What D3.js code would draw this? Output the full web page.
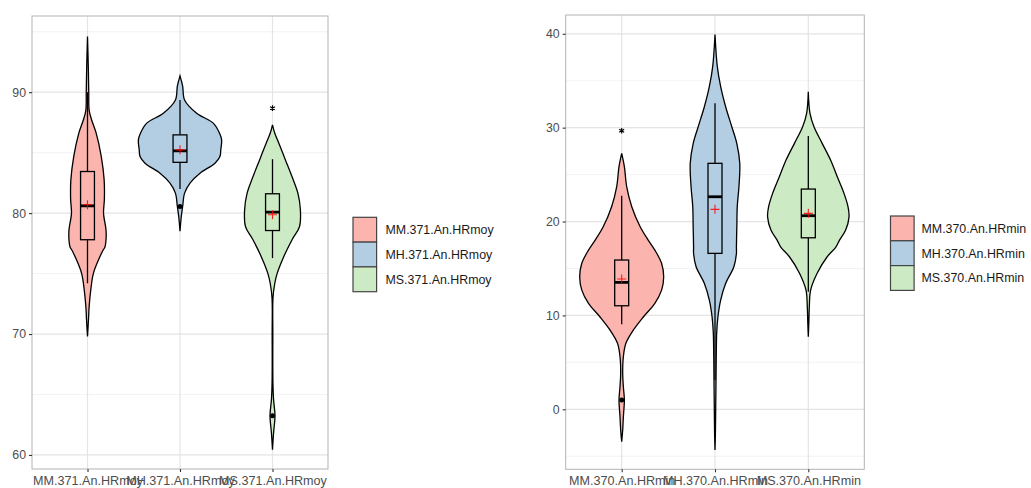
<!DOCTYPE html>
<html><head><meta charset="utf-8">
<script src="https://cdn.jsdelivr.net/npm/d3@7"></script>
<style>
body{margin:0;background:#fff}
svg{display:block}
text{font-family:"Liberation Sans",Arial,Helvetica,sans-serif}
</style>
</head><body>
<svg id="chart" width="1031" height="488"></svg>
<script>
// ---------- DATA ----------
const moyCategories = ["MM.371.An.HRmoy", "MH.371.An.HRmoy", "MS.371.An.HRmoy"];
const minCategories = ["MM.370.An.HRmin", "MH.370.An.HRmin", "MS.370.An.HRmin"];
const fillColors = ["#FBB4AE", "#B3CDE3", "#CCEBC5"];

const moyTicks = [60, 70, 80, 90];
const moyMinorTicks = [65, 75, 85, 95];
const minTicks = [0, 10, 20, 30, 40];
const minMinorTicks = [-5, 5, 15, 25, 35];

// violin outlines: [value, relative density]
const moyViolinMM = [[94.6,0],[92,0.02],[90,0.03],[88.5,0.04],[87.7,0.1],[86.6,0.21],[84.7,0.33],[82.75,0.4],[81.1,0.405],[80,0.385],[78.6,0.445],[77.8,0.445],[77.2,0.42],[76.97,0.38],[76.1,0.26],[75.0,0.14],[73.7,0.08],[72.3,0.04],[71.2,0.024],[69.8,0]];
const moyViolinMH = [[91.35,0],[90.5,0.064],[89.36,0.11],[88.26,0.4],[87.44,0.8],[86.6,0.95],[86.06,1.0],[85.23,0.98],[84.68,0.96],[84.13,0.84],[83.3,0.48],[82.5,0.245],[81.65,0.11],[80.55,0.064],[79.7,0.03],[78.5,0]];
const moyViolinMS = [[87.3,0],[86.6,0.055],[85.8,0.15],[84.4,0.31],[83.0,0.47],[81.65,0.61],[80.27,0.67],[78.9,0.65],[77.8,0.47],[76.4,0.27],[75.0,0.11],[74.2,0.055],[73,0.012],[70,0.008],[66,0.01],[64.6,0.025],[63.25,0.06],[61.8,0.025],[60.44,0]];

const minViolinMM = [[27.26,0],[25.84,0.064],[23.7,0.12],[21.58,0.24],[19.45,0.44],[18.0,0.635],[16.96,0.79],[15.55,0.95],[14.1,1.0],[12.7,0.95],[11.29,0.79],[9.86,0.52],[8.45,0.28],[7.03,0.1],[5.6,0.04],[3.83,0.024],[2.4,0.04],[1.0,0.064],[-0.8,0.04],[-2.2,0.024],[-3.45,0]];
const minViolinMH = [[39.93,0],[36.5,0.055],[34.36,0.135],[32.2,0.255],[30.1,0.4],[28.3,0.52],[26.2,0.59],[23.7,0.57],[21.6,0.53],[19.45,0.52],[17.3,0.51],[16.6,0.51],[15.19,0.45],[13.42,0.255],[11.64,0.135],[9.86,0.07],[8.1,0.04],[5.6,0.03],[3.1,0.024],[0.28,0.017],[-2.56,0.01],[-4.33,0]];
const minViolinMS = [[33.82,0],[31.52,0.04],[30.1,0.135],[28.33,0.33],[26.55,0.53],[24.77,0.69],[23.0,0.85],[21.58,0.945],[20.5,0.97],[19.1,0.89],[18.0,0.74],[17.3,0.66],[16.25,0.45],[14.5,0.21],[12.7,0.055],[10.93,0.024],[9.16,0.012],[7.73,0]];

// box statistics
const moyWhiskerLow  = [74.2, 82.0, 76.28];
const moyQ1          = [77.8, 84.2, 78.56];
const moyMedian      = [80.6, 85.15, 80.08];
const moyQ3          = [83.44, 86.47, 81.6];
const moyWhiskerHigh = [90.0, 89.36, 84.46];
const moyMean        = [80.7, 85.23, 79.86];

const minWhiskerLow  = [9.05, 3.1, 12.52];
const minQ1          = [11.03, 16.61, 18.27];
const minMedian      = [13.52, 22.64, 20.62];
const minQ3          = [15.9, 26.2, 23.46];
const minWhiskerHigh = [22.75, 32.59, 29.1];
const minMean        = [13.88, 21.3, 20.87];

// outliers
const moyOutlierDots  = [{cat: "MH.371.An.HRmoy", v: 80.55}, {cat: "MS.371.An.HRmoy", v: 63.25}];
const moyOutlierStars = [{cat: "MS.371.An.HRmoy", v: 88.68}];
const minOutlierDots  = [{cat: "MM.370.An.HRmin", v: 0.99}];
const minOutlierStars = [{cat: "MM.370.An.HRmin", v: 29.67}];

// ---------- DRAW ----------
const svg = d3.select("#chart");
const LW = 1.3;

function panel(cfg) {
  const {left, right, top, bottom, domain, cats, ticks, minor, violins,
         wLow, q1, med, q3, wHigh, mean, dots, stars, legendX, legendY, legendTextX} = cfg;
  const g = svg.append("g");
  const y = d3.scaleLinear().domain(domain).range([bottom, top]);
  const x = d3.scalePoint().domain(cats).range([left, right]).padding(0.6);
  const step = x.step();
  const wScale = d3.scaleLinear().domain([0, 1]).range([0, 0.45 * step]);

  // grid
  g.selectAll(".minor").data(minor.filter(v => y(v) > top && y(v) < bottom)).join("line")
    .attr("x1", left).attr("x2", right).attr("y1", d => y(d)).attr("y2", d => y(d))
    .attr("stroke", "#eeeeee").attr("stroke-width", 0.7);
  g.selectAll(".major").data(ticks).join("line")
    .attr("x1", left).attr("x2", right).attr("y1", d => y(d)).attr("y2", d => y(d))
    .attr("stroke", "#e4e4e4").attr("stroke-width", 1.2);
  g.selectAll(".vmajor").data(cats).join("line")
    .attr("x1", d => x(d)).attr("x2", d => x(d)).attr("y1", top).attr("y2", bottom)
    .attr("stroke", "#e4e4e4").attr("stroke-width", 1.2);

  // violins
  cats.forEach((c, i) => {
    const cx = x(c);
    const area = d3.area().curve(d3.curveCatmullRom.alpha(0.5))
      .y(d => y(d[0])).x0(d => cx - wScale(d[1])).x1(d => cx + wScale(d[1]));
    g.append("path").datum(violins[i]).attr("d", area)
      .attr("fill", fillColors[i]).attr("stroke", "#000").attr("stroke-width", LW);
  });

  // boxplots
  const bw = 0.075 * step;
  cats.forEach((c, i) => {
    const cx = x(c);
    g.append("line").attr("x1", cx).attr("x2", cx).attr("y1", y(q3[i])).attr("y2", y(wHigh[i]))
      .attr("stroke", "#000").attr("stroke-width", LW);
    g.append("line").attr("x1", cx).attr("x2", cx).attr("y1", y(q1[i])).attr("y2", y(wLow[i]))
      .attr("stroke", "#000").attr("stroke-width", LW);
    g.append("rect").attr("x", cx - bw).attr("width", 2 * bw)
      .attr("y", y(q3[i])).attr("height", y(q1[i]) - y(q3[i]))
      .attr("fill", fillColors[i]).attr("stroke", "#000").attr("stroke-width", LW);
    g.append("line").attr("x1", cx - bw).attr("x2", cx + bw).attr("y1", y(med[i])).attr("y2", y(med[i]))
      .attr("stroke", "#000").attr("stroke-width", 2.8);
    // mean cross
    const my = y(mean[i]);
    g.append("path").attr("d", `M${cx - 4.5},${my}H${cx + 4.5}M${cx},${my - 4.5}V${my + 4.5}`)
      .attr("stroke", "#ff0000").attr("stroke-width", 1.1).attr("opacity", 0.85);
  });

  // outliers
  g.selectAll(".dot").data(dots).join("circle")
    .attr("cx", d => x(d.cat)).attr("cy", d => y(d.v)).attr("r", 2.5).attr("fill", "#000");
  const star = d3.symbol().type(d3.symbolAsterisk).size(22);
  g.selectAll(".star").data(stars).join("path")
    .attr("d", star).attr("transform", d => `translate(${x(d.cat)},${y(d.v)})`)
    .attr("fill", "none").attr("stroke", "#000").attr("stroke-width", 1.2);

  // border
  g.append("rect").attr("x", left).attr("y", top).attr("width", right - left).attr("height", bottom - top)
    .attr("fill", "none").attr("stroke", "#b3b3b3").attr("stroke-width", 1);

  // y axis
  const ya = g.append("g").attr("transform", `translate(${left},0)`)
    .call(d3.axisLeft(y).tickValues(ticks).tickSize(3).tickPadding(3));
  ya.select(".domain").remove();
  ya.selectAll(".tick line").attr("stroke", "#333").attr("stroke-width", 1.1);
  ya.selectAll(".tick text").attr("fill", "#4d4d4d").style("font-size", "12.3px")
    .style("font-family", "'Liberation Sans',Arial,sans-serif");

  // x axis
  const xa = g.append("g").attr("transform", `translate(0,${bottom})`)
    .call(d3.axisBottom(x).tickSize(3).tickPadding(4));
  xa.select(".domain").remove();
  xa.selectAll(".tick line").attr("stroke", "#333").attr("stroke-width", 1.1);
  xa.selectAll(".tick text").attr("fill", "#4d4d4d").style("font-size", "12.6px")
    .style("font-family", "'Liberation Sans',Arial,sans-serif");

  // legend
  const kh = 24.8, kw = 23.6;
  cats.forEach((c, i) => {
    g.append("rect").attr("x", legendX).attr("y", legendY + i * kh).attr("width", kw).attr("height", kh)
      .attr("fill", fillColors[i]).attr("stroke", "#444").attr("stroke-width", 1.2);
    g.append("text").attr("x", legendTextX).attr("y", legendY + i * kh + kh / 2)
      .attr("dy", "0.35em").attr("fill", "#1a1a1a").style("font-size", "12.4px").text(c);
  });
}

panel({left: 32, right: 328, top: 16, bottom: 469, domain: [58.84, 96.3],
  cats: moyCategories, ticks: moyTicks, minor: moyMinorTicks,
  violins: [moyViolinMM, moyViolinMH, moyViolinMS],
  wLow: moyWhiskerLow, q1: moyQ1, med: moyMedian, q3: moyQ3, wHigh: moyWhiskerHigh, mean: moyMean,
  dots: moyOutlierDots, stars: moyOutlierStars, legendX: 353, legendY: 217.3, legendTextX: 385.5});

panel({left: 565.7, right: 864.3, top: 15, bottom: 469.3, domain: [-6.39, 42.0],
  cats: minCategories, ticks: minTicks, minor: minMinorTicks,
  violins: [minViolinMM, minViolinMH, minViolinMS],
  wLow: minWhiskerLow, q1: minQ1, med: minMedian, q3: minQ3, wHigh: minWhiskerHigh, mean: minMean,
  dots: minOutlierDots, stars: minOutlierStars, legendX: 890.5, legendY: 216, legendTextX: 921.5});
</script>
</body></html>
